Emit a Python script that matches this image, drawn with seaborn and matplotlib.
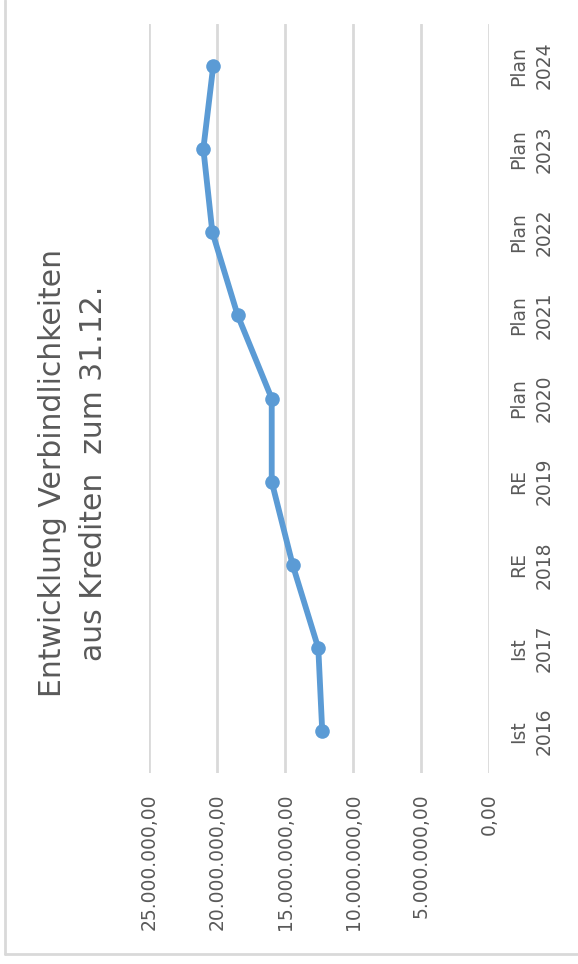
import numpy as np
import pandas as pd
import seaborn as sns
from matplotlib import pyplot as plt
from matplotlib.ticker import FuncFormatter, MultipleLocator
from matplotlib.lines import Line2D

# Chart data (Verbindlichkeiten aus Krediten zum 31.12.)
kategorien = ['Ist\n2016', 'Ist\n2017', 'RE\n2018', 'RE\n2019', 'Plan\n2020',
              'Plan\n2021', 'Plan\n2022', 'Plan\n2023', 'Plan\n2024']
werte = [12280000, 12570000, 14450000, 15990000, 15990000,
         18490000, 20350000, 21010000, 20280000]
titel = 'Entwicklung Verbindlichkeiten\naus Krediten  zum 31.12.'

text_grau = '#595959'
linien_blau = '#5B9BD5'
gitter_grau = '#D9D9D9'


def de_format(v, pos):
    # German number format: 25.000.000,00
    s = f'{v:,.2f}'
    return s.replace(',', 'X').replace('.', ',').replace('X', '.')


sns.set_style('white')
plt.rcParams['font.family'] = ['DejaVu Sans']

df = pd.DataFrame({'pos': np.arange(len(kategorien)), 'wert': werte})

fig = plt.figure(figsize=(5.78, 9.64), dpi=100)
ax = fig.add_axes([149 / 578, 1 - 773 / 964, (489.5 - 149) / 578, (773 - 24) / 964])

# the chart is shown turned by 90 degrees: values run right-to-left
sns.lineplot(data=df, x='wert', y='pos', orient='y', sort=False, ax=ax,
             color=linien_blau, linewidth=4.2, marker='o', markersize=10.5,
             markeredgewidth=0, zorder=3)

ax.set_xlim(25000000, 0)
ax.set_ylim(-0.5, len(kategorien) - 0.5)
ax.xaxis.set_major_locator(MultipleLocator(5000000))
ax.xaxis.set_major_formatter(FuncFormatter(de_format))
ax.grid(axis='x', color=gitter_grau, linewidth=2)
ax.grid(axis='y', visible=False)
for s in ax.spines.values():
    s.set_visible(False)

ax.set_yticks(df['pos'])
ax.set_yticklabels(kategorien, multialignment='center')
ax.yaxis.tick_right()
ax.tick_params(axis='y', length=0, pad=14, labelsize=13.5, labelcolor=text_grau,
               labelrotation=90)
for lbl in ax.get_yticklabels():
    lbl.set_horizontalalignment('left')
    lbl.set_verticalalignment('center')
    lbl.set_linespacing(1.45)
ax.tick_params(axis='x', length=0, pad=15, labelsize=13.5, labelcolor=text_grau,
               labelrotation=90)
ax.set_xlabel('')
ax.set_ylabel('')

fig.text(73 / 578, 1 - 473 / 964, titel, rotation=90, ha='center', va='center',
         multialignment='center', fontsize=21.5, color=text_grau, linespacing=1.5)

# light frame of the chart area (left and bottom edge visible)
fig.add_artist(Line2D([5 / 578, 5 / 578], [1 - 954 / 964, 1.0],
                      transform=fig.transFigure, color=gitter_grau, linewidth=2))
fig.add_artist(Line2D([5 / 578, 1.0], [1 - 954 / 964, 1 - 954 / 964],
                      transform=fig.transFigure, color=gitter_grau, linewidth=2))

plt.savefig('out.png', dpi=100)
